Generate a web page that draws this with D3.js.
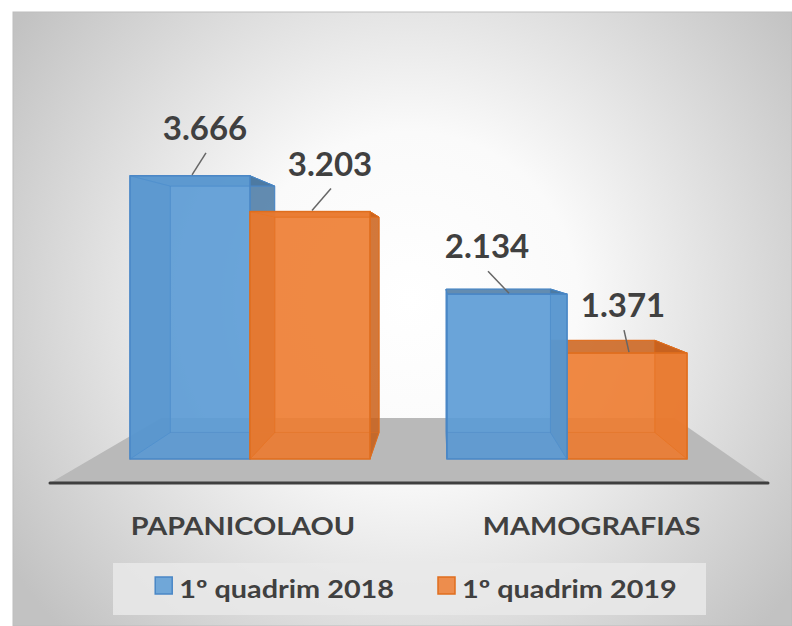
<!DOCTYPE html>
<html>
<head>
<meta charset="utf-8">
<script src="https://cdn.jsdelivr.net/npm/d3@7"></script>
<style>
  body { margin: 0; background: #fff; }
  text { font-family: Lato, "Open Sans", sans-serif; font-weight: bold; fill: #404040; }
</style>
</head>
<body>
<div id="chart"></div>
<script>
/* Data */
const categories = ["PAPANICOLAOU", "MAMOGRAFIAS"];
const seriesNames = ["1º quadrim 2018", "1º quadrim 2019"];
const values2018 = [3666, 2134];
const values2019 = [3203, 1371];

/* Layout */
const width = 792, height = 626;
const vp = { x: 440, y: 255 };   // vanishing point of the 3D view
const depth = 0.87;             // back face scale toward vp
const floorDepth = 0.715;
const labelDx = [[15, -20], [20, -4]]; // value label shift per series / category
const stretch = 1.2;            // Calibri-like wide text

const colors = ["#5b9bd5", "#ed7d31"];
const darkColors = ["#41719c", "#c55a11"];
const edgeColors = ["#4a87c6", "#df6e1e"];

const ptBr = d3.formatLocale({ decimal: ",", thousands: ".", grouping: [3], currency: ["R$", ""] });
const fmt = ptBr.format(",d");

// widen a text element horizontally, keep its width in data-w
function widen(sel, k) {
  sel.each(function () {
    const w = this.getComputedTextLength() * k;
    d3.select(this).attr("textLength", w).attr("lengthAdjust", "spacingAndGlyphs").attr("data-w", w);
  });
}

const svg = d3.select("#chart").append("svg")
  .attr("width", width)
  .attr("height", height);

// Background
const defs = svg.append("defs");
const grad = defs.append("radialGradient")
  .attr("id", "bg")
  .attr("gradientUnits", "userSpaceOnUse")
  .attr("cx", 410).attr("cy", 300).attr("r", 480);
grad.append("stop").attr("offset", 0).attr("stop-color", "#ffffff");
grad.append("stop").attr("offset", 0.35).attr("stop-color", "#fafafa");
grad.append("stop").attr("offset", 1).attr("stop-color", "#c2c2c2");

svg.append("rect")
  .attr("x", 13).attr("y", 12)
  .attr("width", width - 13).attr("height", height - 12)
  .attr("fill", "url(#bg)")
  .attr("stroke", "#bdbdbd")
  .attr("stroke-width", 1);

/* Scales */
const x0 = d3.scaleBand()
  .domain(categories)
  .range([130, 687])
  .paddingInner(0.243)
  .paddingOuter(0);

const x1 = d3.scaleBand()
  .domain(seriesNames)
  .range([0, x0.bandwidth()])
  .padding(0);

const y = d3.scaleLinear()
  .domain([0, 4000])
  .range([459, 150]);

const proj = (p, s) => [vp.x + (p[0] - vp.x) * s, vp.y + (p[1] - vp.y) * s];

// Floor
const floorY = 483;
const fl = x0.range()[0] - 80, fr = x0.range()[1] + 81;
const floorPts = [[fl, floorY], [fr, floorY], proj([fr, floorY], floorDepth), proj([fl, floorY], floorDepth)];
svg.append("polygon")
  .attr("points", floorPts.map(p => p.join(",")).join(" "))
  .attr("fill", "#b9b9b9");
svg.append("line")
  .attr("x1", fl).attr("x2", fr)
  .attr("y1", floorY).attr("y2", floorY)
  .attr("stroke", "#3f3f3f")
  .attr("stroke-width", 3)
  .attr("stroke-linecap", "round");

/* Bars */
const bars = [];
categories.forEach((c, ci) => {
  [values2018, values2019].forEach((vals, si) => {
    const xl = x0(c) + x1(seriesNames[si]);
    const xr = xl + x1.bandwidth();
    bars.push({ cat: c, ci, si, value: vals[ci], xl, xr, top: y(vals[ci]), bottom: y(0) });
  });
});
// paint bars farther from the vanishing point first
bars.sort((a, b) => Math.abs((b.xl + b.xr) / 2 - vp.x) - Math.abs((a.xl + a.xr) / 2 - vp.x));

const pts = a => a.map(p => p.join(",")).join(" ");

bars.forEach(d => {
  const g = svg.append("g");
  const fTL = [d.xl, d.top], fTR = [d.xr, d.top], fBR = [d.xr, d.bottom], fBL = [d.xl, d.bottom];
  const bTL = proj(fTL, depth), bTR = proj(fTR, depth), bBR = proj(fBR, depth), bBL = proj(fBL, depth);

  // hidden faces
  g.append("polygon").attr("points", pts([bTL, bTR, bBR, bBL]))
    .attr("fill", colors[d.si]).attr("fill-opacity", 0.35);
  g.append("polygon").attr("points", pts([fBL, fBR, bBR, bBL]))
    .attr("fill", darkColors[d.si]).attr("fill-opacity", 0.35);
  // side and top faces
  const sides = [
    [fTL, bTL, bBL, fBL],
    [fTR, bTR, bBR, fBR],
    [fTL, fTR, bTR, bTL]
  ];
  g.selectAll(".side").data(sides).enter().append("polygon")
    .attr("points", p => pts(p))
    .attr("fill", darkColors[d.si])
    .attr("fill-opacity", 0.75)
    .attr("stroke", edgeColors[d.si])
    .attr("stroke-width", 1);

  // front face
  g.append("rect")
    .attr("x", d.xl).attr("y", d.top)
    .attr("width", d.xr - d.xl).attr("height", d.bottom - d.top)
    .attr("fill", colors[d.si])
    .attr("fill-opacity", 0.86)
    .attr("stroke", edgeColors[d.si])
    .attr("stroke-width", 1.5);

  // inner edges seen through the front
  const edges = [[fTL, bTL], [fBL, bBL], [fTR, bTR], [fBR, bBR], [bTL, bTR], [bTR, bBR], [bBR, bBL], [bBL, bTL]];
  g.selectAll(".edge").data(edges).enter().append("line")
    .attr("x1", e => e[0][0]).attr("y1", e => e[0][1])
    .attr("x2", e => e[1][0]).attr("y2", e => e[1][1])
    .attr("stroke", edgeColors[d.si])
    .attr("stroke-opacity", 0.45)
    .attr("stroke-width", 1);
});

/* Value labels */
bars.forEach(d => {
  const cx = (d.xl + d.xr) / 2;
  const lx = cx + labelDx[d.si][d.ci];
  svg.append("line")
    .attr("x1", lx + 1).attr("y1", d.top - 23)
    .attr("x2", cx + 2).attr("y2", d.top - 1)
    .attr("stroke", "#666")
    .attr("stroke-width", 1.5);
  svg.append("text")
    .attr("x", lx).attr("y", d.top - 36)
    .attr("text-anchor", "middle")
    .style("font-size", "33px")
    .text(fmt(d.value));
});

/* Category labels */
svg.selectAll(".cat")
  .data(categories)
  .enter().append("text")
  .attr("class", "cat")
  .attr("x", c => vp.x + (x0(c) + x0.bandwidth() / 2 - vp.x) * 1.1 + 12)
  .attr("y", 535)
  .attr("text-anchor", "middle")
  .style("font-size", "24px")
  .text(c => c)
  .call(widen, stretch);

/* Legend */
svg.append("rect")
  .attr("x", 113).attr("y", 563)
  .attr("width", 593).attr("height", 52)
  .attr("fill", "#e9e9e9")
  .attr("fill-opacity", 0.85);

const legend = svg.append("g");
let lxPos = 0;
seriesNames.forEach((s, i) => {
  const item = legend.append("g").attr("transform", `translate(${lxPos},0)`);
  item.append("rect")
    .attr("x", 0).attr("y", 577)
    .attr("width", 17).attr("height", 17)
    .attr("fill", colors[i]).attr("fill-opacity", 0.85)
    .attr("stroke", edgeColors[i]).attr("stroke-width", 1.5);
  const t = item.append("text")
    .attr("x", 24).attr("y", 598)
    .style("font-size", "24px")
    .text(s)
    .call(widen, stretch);
  lxPos += 24 + (+t.attr("data-w")) + 44;
});
const legW = lxPos - 44;
legend.attr("transform", `translate(${416 - legW / 2},0)`);
</script>
</body>
</html>
